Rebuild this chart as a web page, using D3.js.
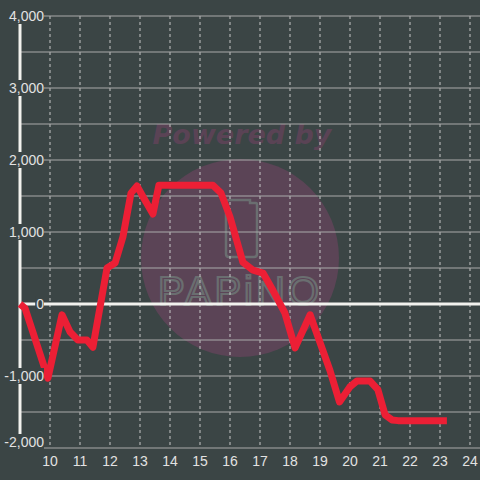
<!DOCTYPE html>
<html lang="en">
<head>
    <meta charset="UTF-8">
    <title>Line chart</title>
    <script src="https://d3js.org/d3.v7.min.js"></script>
    <style>
        html, body { margin: 0; padding: 0; background: #3b4545; }
        svg { display: block; }
        .tick-label { font-family: "Liberation Sans", Arial, sans-serif; font-size: 14px; fill: #e2e2e2; }
    </style>
</head>
<body>
    <div id="chart"></div>
    <script>
        // data
        const xs = [9, 9.17, 9.93, 10.4, 10.67, 10.93, 11.23, 11.43, 11.9, 12.17, 12.43, 12.7, 12.9, 13.1, 13.43, 13.63,
                    15.43, 15.7, 16.0, 16.43, 16.77, 17.1, 17.43, 17.83, 18.17, 18.67, 19.33, 19.65, 20.0, 20.23, 20.67,
                    20.93, 21.17, 21.4, 21.6, 23.23];
        const ys = [0, -60, -1030, -150, -390, -500, -500, -600, 500, 570, 930, 1540, 1640, 1490, 1250, 1650,
                    1650, 1540, 1210, 580, 470, 430, 190, -125, -610, -150, -920, -1360, -1150, -1070, -1070,
                    -1190, -1540, -1610, -1620, -1620];
        const xTicks = [10, 11, 12, 13, 14, 15, 16, 17, 18, 19, 20, 21, 22, 23, 24];
        const yTicks = [-2000, -1000, 0, 1000, 2000, 3000, 4000];
        const yGrid = [-2000, -1500, -1000, -500, 500, 1000, 1500, 2000, 2500, 3000, 3500, 4000];

        const W = 480, H = 480;
        const x = d3.scaleLinear().domain([9, 24]).range([20, 470]);
        const y = d3.scaleLinear().domain([-2000, 4000]).range([448, 16]);

        const svg = d3.select("#chart").append("svg")
            .attr("width", W).attr("height", H);

        svg.append("rect").attr("width", W).attr("height", H).attr("fill", "#3b4545");

        // watermark
        const wm = svg.append("g");
        wm.append("circle").attr("cx", 240).attr("cy", 258).attr("r", 99).attr("fill", "#5b4456");
        wm.append("text").attr("x", 242).attr("y", 144)
            .attr("text-anchor", "middle")
            .attr("font-family", "'DejaVu Sans', sans-serif")
            .attr("font-weight", "bold").attr("font-style", "italic")
            .attr("font-size", 27).attr("fill", "#5a4355")
            .text("Powered by");
        wm.append("path")
            .attr("d", "M229,200 H250 V203 H256 Q257,203 257,205 V254 Q257,257 254,257 H229 Q226,257 226,254 V203 Q226,200 229,200 Z")
            .attr("fill", "none").attr("stroke", "#6a6e70").attr("stroke-width", 2.5);
        wm.append("text").attr("x", 240).attr("y", 305)
            .attr("text-anchor", "middle")
            .attr("font-family", "'Liberation Sans', sans-serif")
            .attr("font-size", 40).attr("letter-spacing", 3)
            .attr("fill", "none").attr("stroke", "#6a6e70").attr("stroke-width", 2.2)
            .text("PAPiNO");

        // grid
        svg.append("g").selectAll("line").data(xTicks).join("line")
            .attr("x1", d => x(d)).attr("x2", d => x(d))
            .attr("y1", y(4000)).attr("y2", y(-2000))
            .attr("stroke", "#c8c8c8").attr("stroke-width", 1)
            .attr("stroke-dasharray", "3,3");
        svg.append("g").selectAll("line").data(yGrid).join("line")
            .attr("x1", x(9)).attr("x2", W)
            .attr("y1", d => y(d)).attr("y2", d => y(d))
            .attr("stroke", "#a9a9a9").attr("stroke-width", 1.2);

        // axes lines
        svg.append("line").attr("x1", x(9)).attr("x2", x(9))
            .attr("y1", y(4000)).attr("y2", y(-2000))
            .attr("stroke", "#f2f2ee").attr("stroke-width", 3);
        svg.append("line").attr("x1", x(9)).attr("x2", W)
            .attr("y1", y(0)).attr("y2", y(0))
            .attr("stroke", "#f2f2ee").attr("stroke-width", 3);

        // series
        const pts = xs.map((v, i) => [v, ys[i]]);
        svg.append("path").datum(pts)
            .attr("d", d3.line().x(d => x(d[0])).y(d => y(d[1])))
            .attr("fill", "none").attr("stroke", "#ec1f35")
            .attr("stroke-width", 7).attr("stroke-linejoin", "round");

        // y labels with background; bottom one is kept inside the plot
        const yl = svg.append("g").selectAll("g").data(yTicks).join("g")
            .attr("transform", d => `translate(44,${Math.min(y(d), 442)})`);
        yl.append("rect").attr("x", d => -(d3.format(",")(d).length * 7.8) - 1).attr("y", -8)
            .attr("width", d => d3.format(",")(d).length * 7.8 + 1).attr("height", 16)
            .attr("fill", "#3b4545");
        yl.append("text").attr("class", "tick-label")
            .attr("text-anchor", "end").attr("dy", "0.35em")
            .text(d => d3.format(",")(d).replace("−", "-"));

        // x labels
        svg.append("g").selectAll("text").data(xTicks).join("text")
            .attr("class", "tick-label")
            .attr("x", d => x(d)).attr("y", 466)
            .attr("text-anchor", "middle")
            .text(d => d);
    </script>
</body>
</html>
